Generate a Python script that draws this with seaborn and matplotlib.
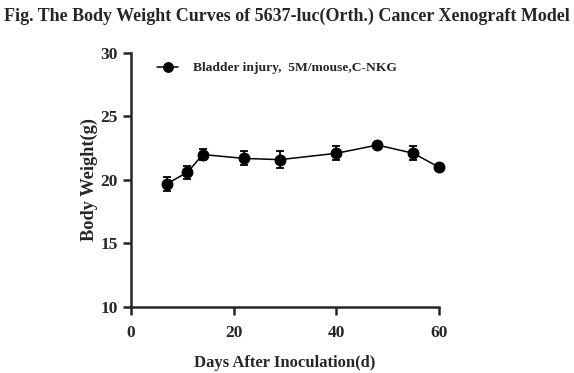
import numpy as np
import pandas as pd
import matplotlib
matplotlib.use("Agg")
import matplotlib.pyplot as plt
import seaborn as sns

# data
days = [7, 11, 14, 22, 29, 40, 48, 55, 60]
weight_mean = [19.7, 20.6, 22.0, 21.7, 21.6, 22.1, 22.75, 22.1, 21.0]
weight_sem = [0.55, 0.5, 0.4, 0.55, 0.65, 0.55, 0.2, 0.55, 0.15]
group_label = "Bladder injury,  5M/mouse,C-NKG"

df = pd.DataFrame({"Day": days, "Weight": weight_mean, "SEM": weight_sem})

sns.set_style("ticks")
plt.rcParams["font.family"] = ["Liberation Serif", "DejaVu Serif"]
plt.rcParams["font.weight"] = "bold"

fig = plt.figure(figsize=(5.74, 3.73), dpi=100)
ax = fig.add_axes([0.228, 0.177, 0.537, 0.681])

ax.errorbar(df["Day"], df["Weight"], yerr=df["SEM"], fmt="none",
            ecolor="black", elinewidth=1.3, capsize=3.2, capthick=1.3,
            zorder=2, clip_on=False)
sns.lineplot(data=df, x="Day", y="Weight", ax=ax, color="black", linewidth=1.1,
             marker="o", markersize=7.8, markeredgecolor="black",
             label=group_label, zorder=3, clip_on=False)

ax.set_xlim(0, 60)
ax.set_ylim(10, 30)
ax.set_xticks([0, 20, 40, 60])
ax.set_yticks([10, 15, 20, 25, 30])
ax.set_xlabel("Days After Inoculation(d)", fontsize=12, fontweight="bold", labelpad=10)
ax.set_ylabel("Body Weight(g)", fontsize=13.2, fontweight="bold", labelpad=1.5)
ax.tick_params(axis="both", labelsize=12.5, width=1.8, length=6, direction="out")
ax.tick_params(axis="x", pad=7)
for lbl in ax.get_xticklabels() + ax.get_yticklabels():
    lbl.set_fontweight("bold")

for side in ["left", "bottom"]:
    ax.spines[side].set_linewidth(1.8)
sns.despine(ax=ax)

leg = ax.legend(loc="upper left", frameon=False, handlelength=1.6,
                handletextpad=1.1, borderpad=0, borderaxespad=0,
                bbox_to_anchor=(0.084, 0.965), markerscale=0.9,
                prop={"family": "Liberation Serif", "weight": "bold", "size": 9.7})

fig.text(0.5, 0.955, "Fig. The Body Weight Curves of 5637-luc(Orth.) Cancer Xenograft Model",
         ha="center", va="center", fontsize=13, fontweight="bold")

fig.savefig("out.png", dpi=100)
